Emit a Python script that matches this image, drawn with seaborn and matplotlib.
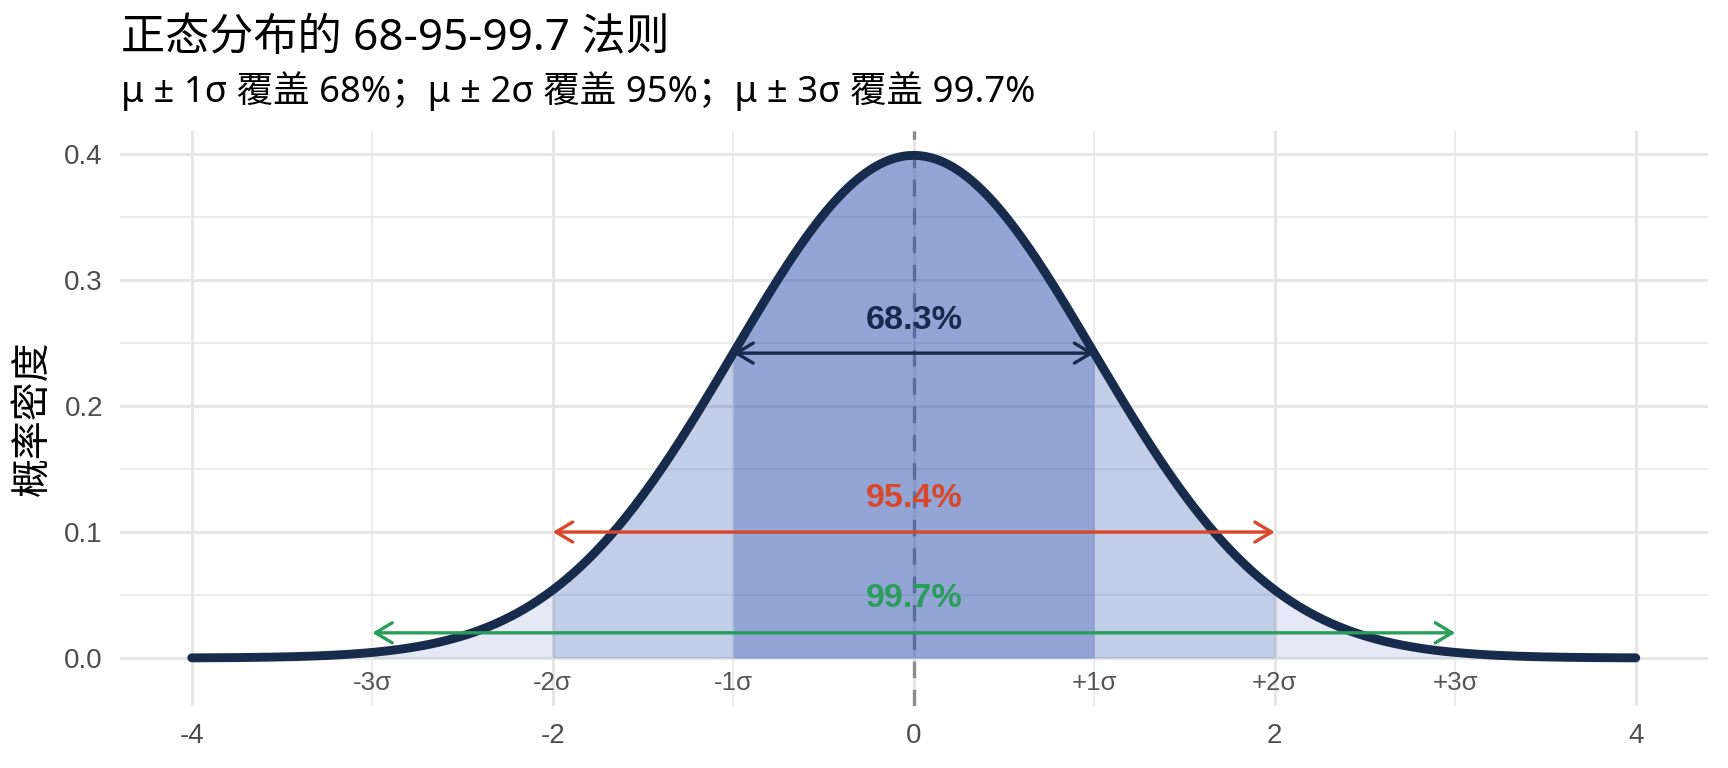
import numpy as np
import pandas as pd
import matplotlib
matplotlib.use("Agg")
import matplotlib.pyplot as plt
import seaborn as sns

# ---- data ----
mu = 0.0
sigma = 1.0
x_min, x_max = -4.0, 4.0
n_points = 801
band_alpha = [0.12, 0.28, 0.50]          # alpha for 3σ, 2σ, 1σ bands
pct_labels = ["68.3%", "95.4%", "99.7%"]
pct_k = [1, 2, 3]
arrow_y = [0.242, 0.10, 0.02]
label_y = [0.268, 0.127, 0.047]
pct_colors = ["#172B4D", "#D9472B", "#2A9D5A"]
sigma_pos = [-3, -2, -1, 1, 2, 3]
sigma_labels = ["-3σ", "-2σ", "-1σ", "+1σ", "+2σ", "+3σ"]
sigma_label_y = -0.02
x_ticks = [-4, -2, 0, 2, 4]
x_tick_labels = ["-4", "-2", "0", "2", "4"]
y_ticks = [0.0, 0.1, 0.2, 0.3, 0.4]
y_tick_labels = ["0.0", "0.1", "0.2", "0.3", "0.4"]
x_minor = [-3, -1, 1, 3]
y_minor = [0.05, 0.15, 0.25, 0.35]

title = "正态分布的 68-95-99.7 法则"
subtitle = "μ ± 1σ 覆盖 68%；μ ± 2σ 覆盖 95%；μ ± 3σ 覆盖 99.7%"
ylabel = "概率密度"

# normal density (the theoretical curve the chart shows)
xs = np.linspace(x_min, x_max, n_points)
pdf = np.exp(-0.5 * ((xs - mu) / sigma) ** 2) / (sigma * np.sqrt(2 * np.pi))
df = pd.DataFrame({"x": xs, "density": pdf})

# ---- style ----
sns.set_theme(style="white")
plt.rcParams["font.family"] = ["Liberation Sans", "Noto Sans CJK SC", "DejaVu Sans"]
CJK = ["Noto Sans CJK SC", "DejaVu Sans"]
HEAD = ["Noto Sans", "Noto Sans CJK SC", "DejaVu Sans"]

navy = "#172B4D"
fill_color = "#274DAD"
tick_color = "#4D4D4D"
grid_color = "#E6E6E6"

fig = plt.figure(figsize=(8.64, 3.84), dpi=200)
ax = fig.add_axes([0.0692, 0.0807, 0.9192, 0.7487])

ax.set_xlim(-4.4, 4.4)
ax.set_ylim(-0.0381, 0.4183)

for s in ax.spines.values():
    s.set_visible(False)

ax.set_xticks(x_ticks)
ax.set_xticklabels(x_tick_labels)
ax.set_yticks(y_ticks)
ax.set_yticklabels(y_tick_labels)
ax.set_xticks(x_minor, minor=True)
ax.set_yticks(y_minor, minor=True)
ax.tick_params(axis="both", which="both", length=0)
ax.tick_params(axis="both", which="major", labelsize=10, labelcolor=tick_color, pad=6)
ax.grid(True, which="major", color=grid_color, linewidth=1.1, zorder=0)
ax.grid(True, which="minor", color=grid_color, linewidth=0.55, zorder=0)
ax.set_axisbelow(True)

# dashed mean line
ax.axvline(mu, color="#8C8C8C", linewidth=1.2, linestyle=(0, (5, 3.5)), zorder=1)

# shaded bands (non-overlapping)
edges = [(-3, -2), (-2, -1), (-1, 1), (1, 2), (2, 3)]
edge_alpha = [band_alpha[0], band_alpha[1], band_alpha[2], band_alpha[1], band_alpha[0]]
for (a, b), al in zip(edges, edge_alpha):
    m = (df["x"] >= a * sigma) & (df["x"] <= b * sigma)
    ax.fill_between(df["x"][m], 0, df["density"][m], color=fill_color, alpha=al,
                    linewidth=0, zorder=2)

# curve
sns.lineplot(data=df, x="x", y="density", color=navy, linewidth=3.2, ax=ax, zorder=4)
ax.set_xlabel("")
ax.set_ylabel("")

# arrows and labels
for k, ay, ly, lab, col in zip(pct_k, arrow_y, label_y, pct_labels, pct_colors):
    ax.annotate("", xy=(k * sigma, ay), xytext=(-k * sigma, ay),
                arrowprops=dict(arrowstyle="<->,head_length=0.5,head_width=0.3",
                                color=col, lw=1.2, shrinkA=0, shrinkB=0),
                zorder=5)
    ax.text(mu, ly, lab, ha="center", va="center", fontsize=12.3,
            fontweight="bold", color=col, zorder=6)

for p, lab in zip(sigma_pos, sigma_labels):
    ax.text(p * sigma, sigma_label_y, lab, ha="center", va="center",
            fontsize=9.3, color="#555555", zorder=6)

fig.text(33 / 1728, 1 - 418 / 768, ylabel, rotation=90, ha="center", va="center",
         fontsize=14, color="black", family=CJK)
fig.text(121 / 1728, 1 - 39 / 768, title, ha="left", va="center",
         fontsize=15.9, color="black", family=HEAD)
fig.text(121 / 1728, 1 - 91 / 768, subtitle, ha="left", va="center",
         fontsize=13.15, color="black", family=HEAD)

fig.savefig("out.png", dpi=200, facecolor="white")
